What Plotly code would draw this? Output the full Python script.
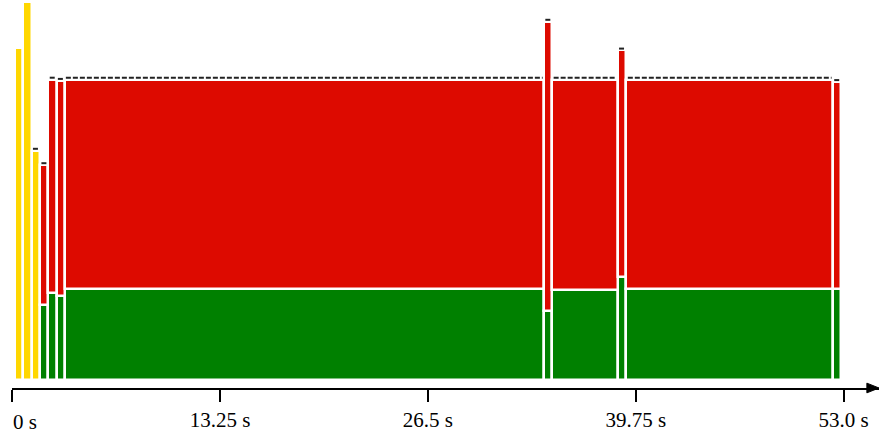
import plotly.graph_objects as go

# ---- data ----
# time segments (seconds)
seg_start = [0.19, 0.71, 1.23, 1.77, 2.30, 2.82, 3.33, 33.90, 34.43, 38.60, 39.16, 52.32]
seg_end   = [0.71, 1.23, 1.77, 2.30, 2.82, 3.33, 33.90, 34.43, 38.60, 39.16, 52.32, 52.86]
# yellow (single-part) segments: value or None
yellow_vals = [110.5, 125.7, 76.3, None, None, None, None, None, None, None, None, None]
# stacked parts
green_vals = [None, None, None, 24.7, 28.9, 27.9, 30.3, 22.9, 29.9, 34.3, 30.2, 30.2]
red_vals   = [None, None, None, 46.8, 71.1, 71.7, 69.7, 96.4, 70.1, 75.4, 69.8, 69.0]
# whether a top marker is drawn for the segment
has_marker = [False, False, True, True, True, True, True, True, True, True, True, True]

tick_vals = [0, 13.25, 26.5, 39.75, 53.0]
tick_text = ["0 s", "13.25 s", "26.5 s", "39.75 s", "53.0 s"]

YELLOW = "#FFD700"
RED = "#DD0A00"
GREEN = "#008000"
FONT = "Liberation Serif, Times New Roman, DejaVu Serif, serif"

centers = [(s + e) / 2 for s, e in zip(seg_start, seg_end)]
widths = [e - s for s, e in zip(seg_start, seg_end)]

fig = go.Figure()

outline = dict(color="white", width=2.5)

# yellow bars
yi = [i for i, v in enumerate(yellow_vals) if v is not None]
fig.add_trace(go.Bar(
    x=[centers[i] for i in yi], y=[yellow_vals[i] for i in yi],
    width=[widths[i] for i in yi], base=0,
    marker=dict(color=YELLOW, line=outline), showlegend=False, hoverinfo="skip"))

si = [i for i, v in enumerate(green_vals) if v is not None]
fig.add_trace(go.Bar(
    x=[centers[i] for i in si], y=[green_vals[i] for i in si],
    width=[widths[i] for i in si], base=0,
    marker=dict(color=GREEN, line=outline), showlegend=False, hoverinfo="skip"))
fig.add_trace(go.Bar(
    x=[centers[i] for i in si], y=[red_vals[i] for i in si],
    width=[widths[i] for i in si], base=[green_vals[i] for i in si],
    marker=dict(color=RED, line=outline), showlegend=False, hoverinfo="skip"))

# top markers (dashed lines just above each bar)
totals = []
for i in range(len(seg_start)):
    if yellow_vals[i] is not None:
        totals.append(yellow_vals[i])
    else:
        totals.append(green_vals[i] + red_vals[i])

mx, my = [], []
inset = 0.085
gap = 0.6
for i in range(len(seg_start)):
    if not has_marker[i]:
        continue
    mx += [seg_start[i] + inset, seg_end[i] - inset, None]
    my += [totals[i] + gap, totals[i] + gap, None]
fig.add_trace(go.Scatter(
    x=mx, y=my, mode="lines", connectgaps=False,
    line=dict(color="#222222", width=2, dash="5px,2px"),
    showlegend=False, hoverinfo="skip"))

# arrow head at right end of x axis
fig.add_shape(type="path", xref="paper", yref="paper",
              path="M 0.986 0.0125 L 1.0 0 L 0.986 -0.0125 Z",
              fillcolor="black", line=dict(color="black", width=1), layer="above")

# first tick label is drawn left-aligned at its tick
fig.add_annotation(x=tick_vals[0], y=0, xref="x", yref="paper",
                   text=tick_text[0], showarrow=False,
                   xanchor="left", yanchor="middle", xshift=-1, yshift=-34,
                   font=dict(family=FONT, size=21, color="black"))

fig.update_layout(
    width=879, height=440,
    margin=dict(l=12, r=0, t=0, b=52),
    paper_bgcolor="white", plot_bgcolor="white",
    barmode="overlay", bargap=0,
    showlegend=False,
    font=dict(family=FONT),
    xaxis=dict(
        range=[-0.02, 55.26], showgrid=False, zeroline=False,
        showline=True, linecolor="black", linewidth=2,
        ticks="outside", ticklen=12, tickwidth=2, tickcolor="black",
        tickvals=tick_vals, ticktext=[""] + tick_text[1:],
        tickfont=dict(family=FONT, size=21, color="black"),
        automargin=False, fixedrange=True,
    ),
    yaxis=dict(
        range=[-2.83, 126.5], showgrid=False, zeroline=False,
        showline=False, showticklabels=False, ticks="", fixedrange=True,
        automargin=False,
    ),
)

fig.write_html("out.html", config={"displayModeBar": False},
               post_script="document.body.style.margin='0px';")
